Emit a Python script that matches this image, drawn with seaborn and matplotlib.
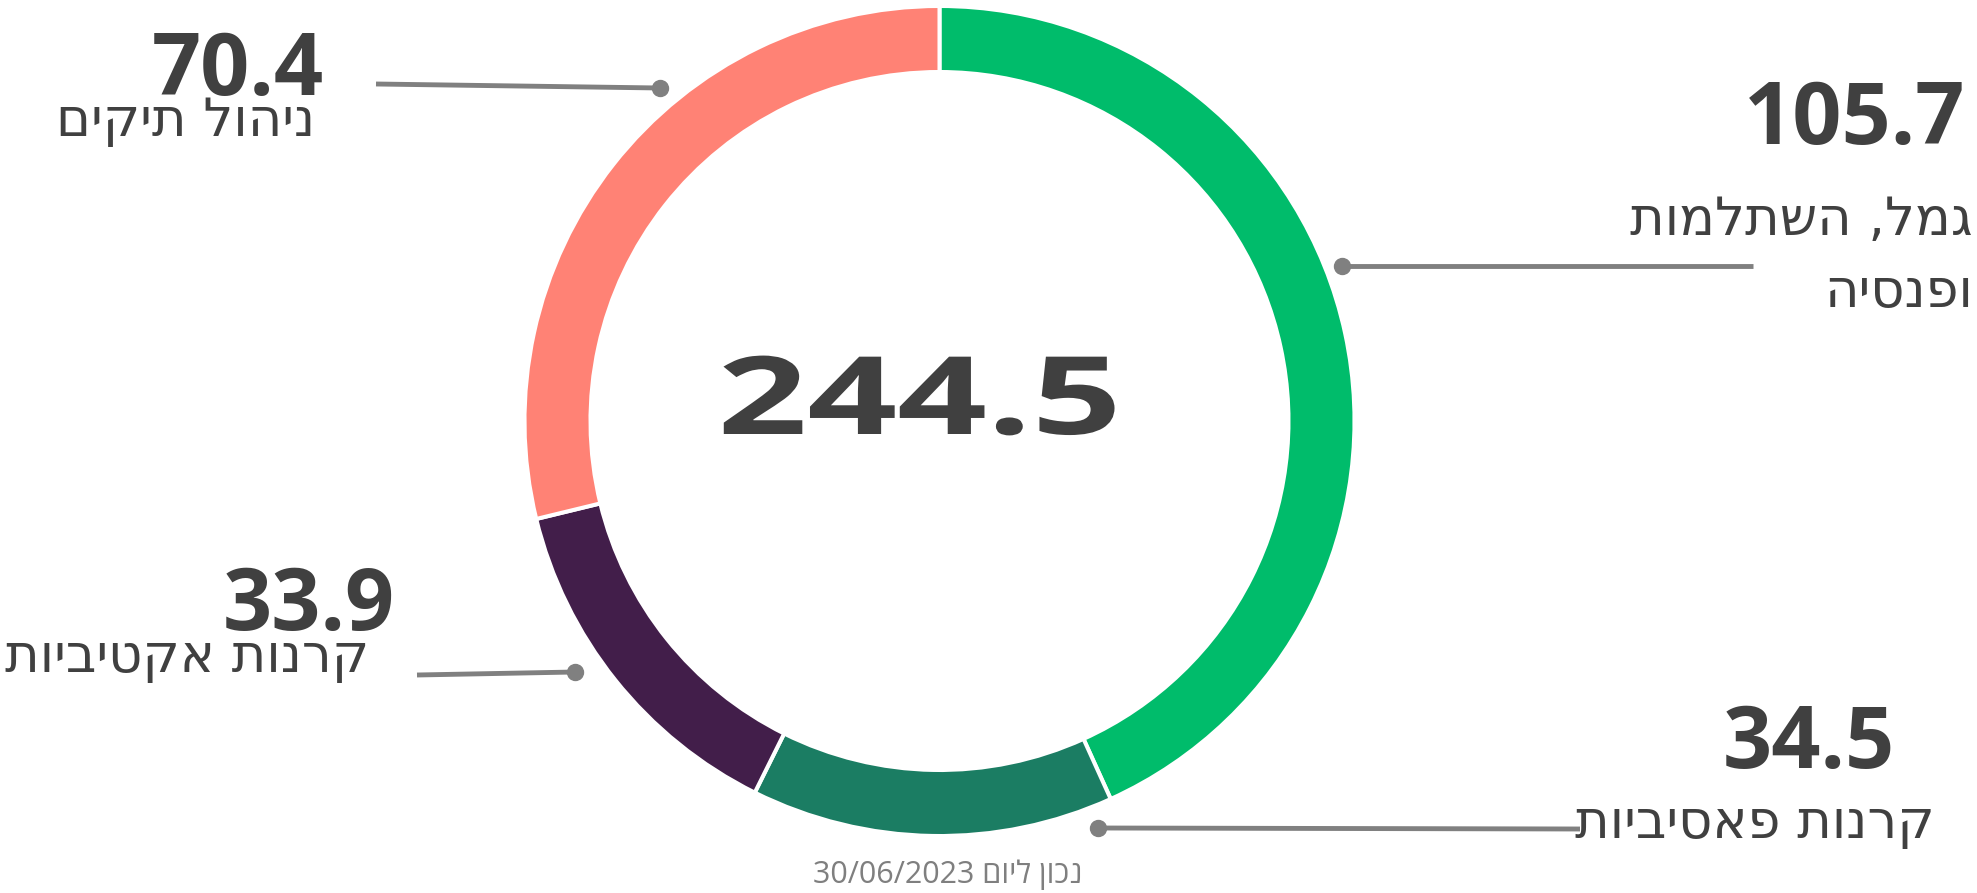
import matplotlib
matplotlib.use('Agg')
import matplotlib.pyplot as plt
import matplotlib.patheffects as pe
from matplotlib.transforms import Affine2D
import seaborn as sns

# נתונים (מיליארד ש"ח)
categories = ['גמל, השתלמות\nופנסיה', 'קרנות פאסיביות', 'קרנות אקטיביות', 'ניהול תיקים']
values = [105.7, 34.5, 33.9, 70.4]
date_note = 'נכון ליום 30/06/2023'
total = round(sum(values), 1)

colors = ['#00BC6B', '#1B7D63', '#421E4A', '#FF8275']

W, H = 1977, 893

# layout of labels (pixels from top-left): number (x_right, baseline), label (x_right, baseline)
num_pos = [(1965, 144), (1895, 768), (395, 630), (324, 95)]
lab_pos = [(1973, 235), (1935, 838), (369, 672), (315, 136)]
# leader lines: (x_end, y_end) -> dot (x, y)
leaders = [((1753, 266), (1342, 266)),
           ((1580, 829), (1098, 828)),
           ((417, 675), (575, 672)),
           ((376, 84), (660, 88))]


def rtl(line):
    # matplotlib has no bidi, so flip the hebrew words by hand
    words = line.split()
    out = []
    for w in reversed(words):
        if any('\u0590' <= c <= '\u05ff' for c in w):
            out.append(w[::-1])
        else:
            out.append(w)
    return ' '.join(out)


class Stretch(pe.AbstractPathEffect):
    # stretch glyphs horizontally around display x = cx
    def __init__(self, sx, cx):
        super().__init__()
        self.sx = sx
        self.cx = cx

    def draw_path(self, renderer, gc, tpath, affine, rgbFace=None):
        t = affine + Affine2D().translate(-self.cx, 0).scale(self.sx, 1).translate(self.cx, 0)
        renderer.draw_path(gc, tpath, t, rgbFace)


sns.set_theme(style="white")
plt.rcParams['font.family'] = ['Open Sans', 'DejaVu Sans']
heb_font = ['DejaVu Sans']

fig = plt.figure(figsize=(W / 100, H / 100), dpi=100)
ax = fig.add_axes([0, 0, 1, 1])

ax.pie(values, colors=colors, startangle=90, counterclock=False,
       radius=415, center=(939.5, H - 421),
       wedgeprops=dict(width=66, edgecolor='white', linewidth=2.9))

ax.set_xlim(0, W)
ax.set_ylim(0, H)
ax.set_aspect('auto')
ax.axis('off')

txt_col = '#404040'
line_col = '#808080'

for i in range(len(values)):
    (x1, y1), (x2, y2) = leaders[i]
    ax.plot([x1, x2], [H - y1, H - y2], color=line_col, lw=3.5, solid_capstyle='butt', zorder=3)
    ax.plot([x2], [H - y2], 'o', color=line_col, ms=11.5, zorder=4)

    nx, ny = num_pos[i]
    ax.text(nx, H - ny, f'{values[i]:.1f}', ha='right', va='baseline',
            fontsize=62, fontweight='bold', color=txt_col)

    lx, ly = lab_pos[i]
    for k, line in enumerate(categories[i].split('\n')):
        ax.text(lx, H - ly - k * 72, rtl(line), ha='right', va='baseline',
                fontsize=38, family=heb_font, color=txt_col)

# total in the middle, drawn wide like the original
cx = 920
center_txt = ax.text(cx, H - 434, f'{total:.1f}', ha='center', va='baseline',
                     fontsize=78, fontweight='bold', color=txt_col)
fig.canvas.draw()
bb = center_txt.get_window_extent()
center_txt.set_path_effects([Stretch(405 / bb.width, cx)])

ax.text(948, H - 883, rtl(date_note), ha='center', va='baseline',
        fontsize=22, family=['Open Sans', 'DejaVu Sans'], color='#7F7F7F')

fig.savefig('out.png', dpi=100, facecolor='white')
